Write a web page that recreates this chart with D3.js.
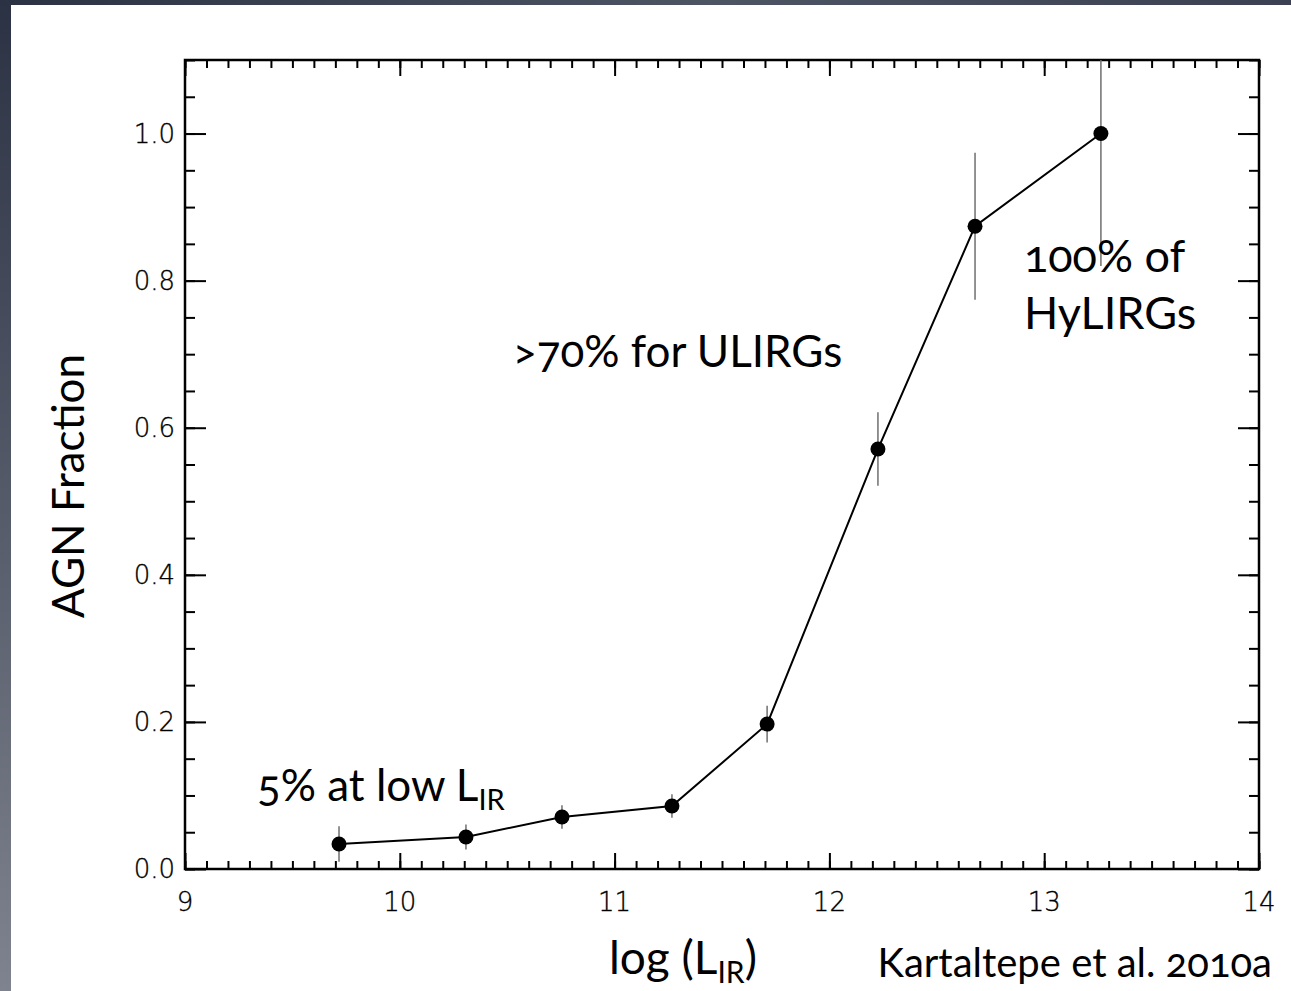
<!DOCTYPE html>
<html>
<head>
<meta charset="utf-8">
<script src="https://cdn.jsdelivr.net/npm/d3@7"></script>
<style>
  html, body { margin: 0; padding: 0; }
  body { width: 1291px; height: 991px; overflow: hidden; }
  .calib { font-family: Lato, "Open Sans", sans-serif; font-weight: 400; font-feature-settings: "onum" 1; fill: #000; }
  .tick-label { font-family: "DejaVu Sans", sans-serif; font-weight: 200; font-size: 26px; fill: #000; stroke: #000; stroke-width: 0.35px; }
</style>
</head>
<body>
<svg id="chart" width="1291" height="991"></svg>
<script>
// AGN fraction as a function of infrared luminosity
const logLIR      = [9.717, 10.308, 10.755, 11.267, 11.71, 12.226, 12.678, 13.264];
const agnFraction = [0.034, 0.0435, 0.0707, 0.0856, 0.197, 0.571, 0.874, 1.0];
const errLow      = [0.024, 0.017, 0.016, 0.016, 0.025, 0.05, 0.1, 0.18];
const errHigh     = [0.024, 0.017, 0.016, 0.016, 0.025, 0.05, 0.1, 0.18];

const xMajorTicks = [9, 10, 11, 12, 13, 14];
const yMajorTicks = [0.0, 0.2, 0.4, 0.6, 0.8, 1.0];

const svg = d3.select("#chart");
const W = 1291, H = 991;

// slide backdrop with white panel
const defs = svg.append("defs");
const gTop = defs.append("linearGradient").attr("id", "bgTop").attr("x1", 0).attr("x2", 1).attr("y1", 0).attr("y2", 0);
gTop.append("stop").attr("offset", "0%").attr("stop-color", "#2b3243");
gTop.append("stop").attr("offset", "55%").attr("stop-color", "#4d5462");
gTop.append("stop").attr("offset", "100%").attr("stop-color", "#3b4152");
const gLeft = defs.append("linearGradient").attr("id", "bgLeft").attr("x1", 0).attr("x2", 0).attr("y1", 0).attr("y2", 1);
gLeft.append("stop").attr("offset", "0%").attr("stop-color", "#2b3243");
gLeft.append("stop").attr("offset", "60%").attr("stop-color", "#5d6270");
gLeft.append("stop").attr("offset", "100%").attr("stop-color", "#7f838f");
svg.append("rect").attr("x", 0).attr("y", 0).attr("width", W).attr("height", H).attr("fill", "url(#bgLeft)");
svg.append("rect").attr("x", 0).attr("y", 0).attr("width", W).attr("height", 5).attr("fill", "url(#bgTop)");
svg.append("rect").attr("x", 11).attr("y", 5).attr("width", W - 11).attr("height", H - 5).attr("fill", "#fff");

const mLeft = 185, mRight = 1259, mTop = 60, mBottom = 869;
const x = d3.scaleLinear().domain([9, 14]).range([mLeft, mRight]);
const y = d3.scaleLinear().domain([0, 1.1]).range([mBottom, mTop]);

const xMinor = d3.range(9, 14.0001, 0.1).map(v => +v.toFixed(1));
const yMinor = d3.range(0, 1.1001, 0.05).map(v => +v.toFixed(2));

// frame axes: ticks pointing inward on all four sides
function styleAxis(g) {
  g.select(".domain").remove();
  g.selectAll(".tick line").attr("stroke", "#000").attr("stroke-width", 2);
}
const fmtNone = () => "";
svg.append("g").attr("transform", `translate(0,${mBottom})`)
  .call(d3.axisTop(x).tickValues(xMinor).tickSize(8).tickFormat(fmtNone)).call(styleAxis);
svg.append("g").attr("transform", `translate(0,${mBottom})`)
  .call(d3.axisTop(x).tickValues(xMajorTicks).tickSize(16).tickFormat(fmtNone)).call(styleAxis);
svg.append("g").attr("transform", `translate(0,${mTop})`)
  .call(d3.axisBottom(x).tickValues(xMinor).tickSize(8).tickFormat(fmtNone)).call(styleAxis);
svg.append("g").attr("transform", `translate(0,${mTop})`)
  .call(d3.axisBottom(x).tickValues(xMajorTicks).tickSize(16).tickFormat(fmtNone)).call(styleAxis);
svg.append("g").attr("transform", `translate(${mLeft},0)`)
  .call(d3.axisRight(y).tickValues(yMinor).tickSize(10).tickFormat(fmtNone)).call(styleAxis);
svg.append("g").attr("transform", `translate(${mLeft},0)`)
  .call(d3.axisRight(y).tickValues(yMajorTicks).tickSize(21).tickFormat(fmtNone)).call(styleAxis);
svg.append("g").attr("transform", `translate(${mRight},0)`)
  .call(d3.axisLeft(y).tickValues(yMinor).tickSize(10).tickFormat(fmtNone)).call(styleAxis);
svg.append("g").attr("transform", `translate(${mRight},0)`)
  .call(d3.axisLeft(y).tickValues(yMajorTicks).tickSize(21).tickFormat(fmtNone)).call(styleAxis);

svg.append("rect").attr("x", mLeft).attr("y", mTop).attr("width", mRight - mLeft).attr("height", mBottom - mTop)
  .attr("fill", "none").attr("stroke", "#000").attr("stroke-width", 2.5);

// tick labels
svg.selectAll(".xl").data(xMajorTicks).join("text")
  .attr("class", "tick-label").attr("x", d => x(d)).attr("y", 911).attr("text-anchor", "middle")
  .text(d => d3.format("d")(d));
svg.selectAll(".yl").data(yMajorTicks).join("text")
  .attr("class", "tick-label").attr("x", 175).attr("y", d => y(d) + 9).attr("text-anchor", "end")
  .text(d => d3.format(".1f")(d));

// data
const clipId = "plotClip";
defs.append("clipPath").attr("id", clipId).append("rect")
  .attr("x", mLeft).attr("y", mTop).attr("width", mRight - mLeft).attr("height", mBottom - mTop);
const plot = svg.append("g").attr("clip-path", `url(#${clipId})`);
const pts = logLIR.map((v, i) => ({ x: v, y: agnFraction[i], lo: errLow[i], hi: errHigh[i] }));

plot.selectAll(".err").data(pts).join("line")
  .attr("x1", d => x(d.x)).attr("x2", d => x(d.x))
  .attr("y1", d => y(d.y - d.lo)).attr("y2", d => y(d.y + d.hi))
  .attr("stroke", "#6f6f6f").attr("stroke-width", 1.5);
plot.append("path").datum(pts)
  .attr("d", d3.line().x(d => x(d.x)).y(d => y(d.y)))
  .attr("fill", "none").attr("stroke", "#000").attr("stroke-width", 2);
plot.selectAll(".dot").data(pts).join("circle")
  .attr("cx", d => x(d.x)).attr("cy", d => y(d.y)).attr("r", 7.5).attr("fill", "#000");

// titles and annotations
svg.append("text").attr("class", "calib")
  .attr("transform", "translate(84,486) rotate(-90)").attr("text-anchor", "middle")
  .style("font-size", "44px").text("AGN Fraction");

const xt = svg.append("text").attr("class", "calib").attr("x", 609).attr("y", 974).style("font-size", "46px");
xt.append("tspan").text("log (L");
xt.append("tspan").attr("dy", 9).style("font-size", "30px").text("IR");
xt.append("tspan").attr("dy", -9).text(")");

svg.append("text").attr("class", "calib").attr("x", 1272).attr("y", 977).attr("text-anchor", "end")
  .style("font-size", "40px").text("Kartaltepe et al. 2010a");

svg.append("text").attr("class", "calib").attr("x", 513).attr("y", 367).style("font-size", "44px")
  .text(">70% for ULIRGs");
svg.append("text").attr("class", "calib").attr("x", 1024).attr("y", 272).style("font-size", "45px")
  .text("100% of");
svg.append("text").attr("class", "calib").attr("x", 1024).attr("y", 329).style("font-size", "45px")
  .text("HyLIRGs");

const lo = svg.append("text").attr("class", "calib").attr("x", 257).attr("y", 801).style("font-size", "44px");
lo.append("tspan").text("5% at low L");
lo.append("tspan").attr("dy", 9).style("font-size", "29px").text("IR");
</script>
</body>
</html>
